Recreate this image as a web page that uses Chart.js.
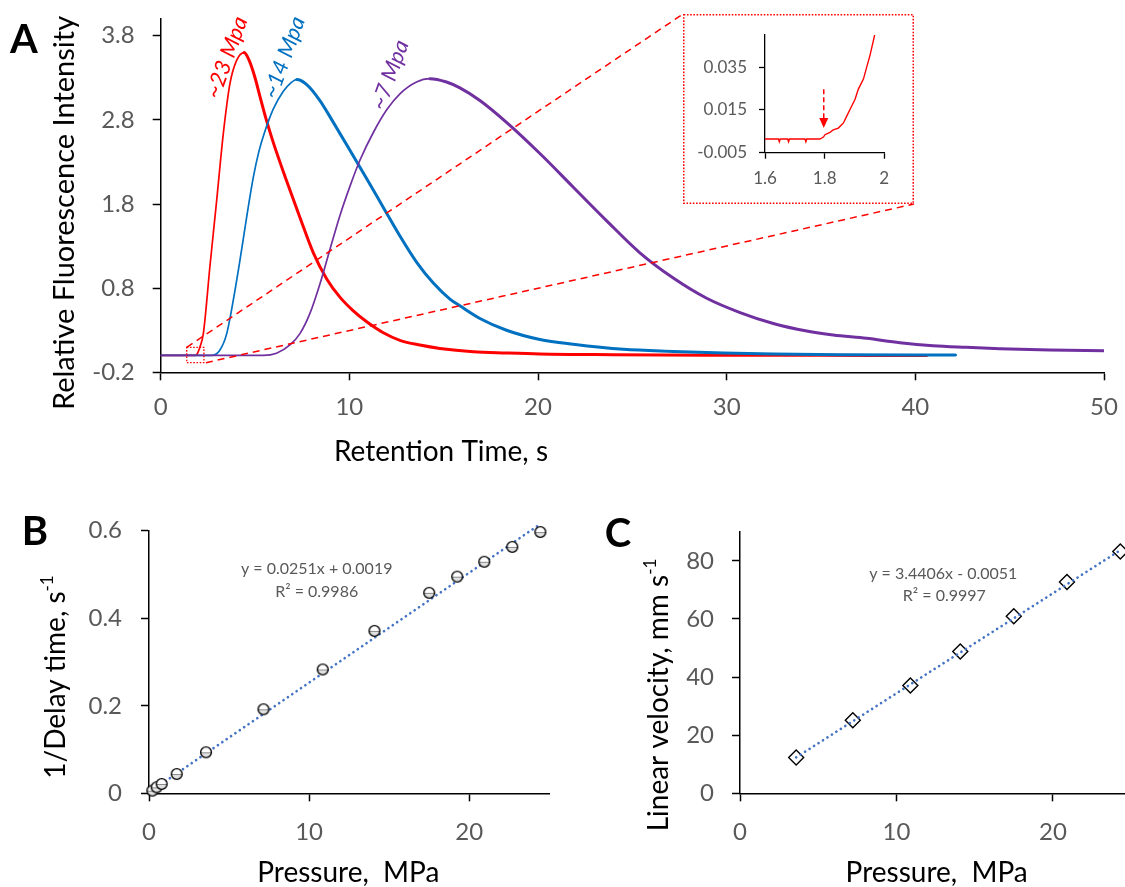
<!DOCTYPE html>
<html>
<head>
<meta charset="utf-8">
<title>Fluorescence retention and pressure dependence</title>
<script src="https://cdn.jsdelivr.net/npm/chart.js@4.4.1/dist/chart.umd.min.js"></script>
<style>
  html, body { margin: 0; padding: 0; width: 1125px; height: 887px; overflow: hidden; background: #fff; }
  canvas { position: absolute; }
</style>
</head>
<body>
<canvas id="chartA"></canvas>
<canvas id="chartInset"></canvas>
<canvas id="chartB"></canvas>
<canvas id="chartC"></canvas>
<script>
// ---------- Panel A: fluorescence traces at three pressures ----------
const time23 = [0, 1.8, 1.91, 2.08, 2.26, 2.61, 2.97, 3.32, 3.67, 4.03, 4.42, 4.7, 5.0, 5.26, 5.6, 5.97, 6.68, 7.38, 8.09, 8.80, 9.51, 10.21, 10.92, 11.80, 12.68, 13.74, 14.8, 16.57, 18.3, 20.1, 24.0, 29.0, 35.0, 40.6];
const signal23 = [0, 0, 0.01, 0.10, 0.26, 1.06, 1.85, 2.64, 3.23, 3.51, 3.60, 3.50, 3.30, 3.08, 2.80, 2.53, 2.07, 1.64, 1.22, 0.91, 0.69, 0.53, 0.40, 0.27, 0.18, 0.124, 0.084, 0.045, 0.03, 0.018, 0.01, 0.004, 0.002, 0.0];

const time14 = [0, 2.70, 3.14, 3.50, 3.85, 4.20, 4.56, 4.91, 5.2, 5.46, 5.97, 6.50, 6.9, 7.21, 7.74, 8.44, 9.15, 10.03, 10.92, 11.80, 12.68, 13.56, 14.45, 15.33, 15.86, 16.92, 18.33, 20.1, 21.87, 24.52, 27.17, 29.82, 32.47, 36.0, 42.13];
const signal14 = [0, 0, 0.065, 0.26, 0.66, 1.13, 1.65, 2.12, 2.42, 2.62, 2.93, 3.14, 3.24, 3.28, 3.22, 3.03, 2.77, 2.44, 2.10, 1.76, 1.42, 1.11, 0.86, 0.67, 0.59, 0.44, 0.30, 0.19, 0.133, 0.073, 0.048, 0.03, 0.018, 0.01, 0.006];

const time7 = [0, 5.44, 6.14, 6.85, 7.38, 7.91, 8.44, 8.97, 9.51, 10.03, 10.56, 11.27, 11.98, 12.68, 13.56, 14.27, 15.15, 15.86, 16.92, 18.33, 20.1, 21.87, 23.64, 25.4, 27.17, 28.94, 30.71, 32.47, 34.24, 35.64, 37.41, 39.18, 40.94, 42.71, 44.48, 47.13, 50.0];
const signal7 = [0, 0, 0.026, 0.125, 0.26, 0.50, 0.85, 1.26, 1.67, 2.01, 2.32, 2.65, 2.92, 3.11, 3.25, 3.29, 3.25, 3.18, 3.03, 2.77, 2.40, 2.0, 1.60, 1.22, 0.92, 0.68, 0.51, 0.38, 0.29, 0.243, 0.204, 0.152, 0.116, 0.097, 0.081, 0.065, 0.057];

const timeTicksA = [0, 10, 20, 30, 40, 50];
const signalTicksA = [-0.2, 0.8, 1.8, 2.8, 3.8];
const pressureLabels = ['~23 Mpa', '~14 Mpa', '~7 Mpa'];

// region shown enlarged in the inset
const zoomBoxTime = [1.38, 2.29];
const zoomBoxSignal = [-0.086, 0.097];

// ---------- Inset: onset of the ~23 MPa trace ----------
const insetTime = [1.6, 1.645, 1.648, 1.651, 1.676, 1.679, 1.682, 1.734, 1.737, 1.740, 1.784, 1.796, 1.801, 1.818, 1.829, 1.846, 1.863, 1.874, 1.885, 1.902, 1.913, 1.930, 1.941, 1.952, 1.969];
const insetSignal = [0.0014, 0.0014, 0.0001, 0.0014, 0.0014, 0.0001, 0.0014, 0.0014, 0.0001, 0.0014, 0.0014, 0.0023, 0.0034, 0.0045, 0.0057, 0.0065, 0.0089, 0.0121, 0.0152, 0.020, 0.0247, 0.0294, 0.035, 0.0405, 0.0508];
const insetTimeTicks = [1.6, 1.8, 2];
const insetSignalTicks = [-0.005, 0.015, 0.035];
const onsetTime = 1.797;
const onsetArrowSignal = [0.0247, 0.0065];

// ---------- Panel B: inverse delay time vs pressure ----------
const pressureB = [0.21, 0.48, 0.79, 1.73, 3.56, 7.15, 10.85, 14.08, 17.5, 19.25, 20.94, 22.69, 24.44];
const inverseDelay = [0.006, 0.0137, 0.0213, 0.044, 0.0937, 0.192, 0.283, 0.371, 0.458, 0.495, 0.529, 0.563, 0.597];
const slopeB = 0.0251, interceptB = 0.0019, r2B = 0.9986;
const pressureTicks = [0, 10, 20];
const inverseDelayTicks = [0, 0.2, 0.4, 0.6];

// ---------- Panel C: linear velocity vs pressure ----------
const pressureC = [3.59, 7.21, 10.89, 14.08, 17.5, 20.9, 24.31];
const linearVelocity = [12.3, 25.1, 37.1, 48.8, 60.9, 72.7, 83.2];
const slopeC = 3.4406, interceptC = -0.0051, r2C = 0.9997;
const velocityTicks = [0, 20, 40, 60, 80];

// ---------- shared styling ----------
const FONT = 'Lato, "Open Sans", sans-serif';
const TICK_GREY = '#595959';
const RED = '#FF0000', BLUE = '#0070C0', PURPLE = '#7030A0', FIT_BLUE = '#4472C4';

const pts = (xs, ys) => xs.map((x, i) => ({ x, y: ys[i] }));
const fmtTick = v => String(Number(v.toFixed(4)));

function placeCanvas(id, box) {
  const c = document.getElementById(id);
  c.width = box.w; c.height = box.h;
  c.style.left = box.x + 'px'; c.style.top = box.y + 'px';
  c.style.width = box.w + 'px'; c.style.height = box.h + 'px';
  return c;
}

// padding so that the plot area lands on the given page rectangle
function padFor(box, plot, yW, xH) {
  return {
    left: plot.l - box.x - yW,
    top: plot.t - box.y,
    right: box.x + box.w - plot.r,
    bottom: box.y + box.h - plot.b - xH
  };
}

function axis(opts) {
  const { ticks, min, max, size, isY, fontSize, tickLen, pad, width } = opts;
  return {
    type: 'linear', min, max,
    afterBuildTicks: s => { s.ticks = ticks.map(v => ({ value: v })); },
    afterFit: s => {
      if (isY) { s.width = size; s.paddingTop = 0; s.paddingBottom = 0; }
      else { s.height = size; s.paddingLeft = 0; s.paddingRight = 0; }
    },
    grid: { display: true, drawOnChartArea: false, drawTicks: true, tickLength: tickLen, tickWidth: width, tickColor: '#000' },
    border: { display: true, color: '#000', width: width },
    ticks: {
      color: TICK_GREY, padding: pad, autoSkip: false, maxRotation: 0,
      font: { family: FONT, size: fontSize },
      callback: v => fmtTick(v)
    }
  };
}

// draws free text (titles, panel letters, notes) at page coordinates
function textLayer(items, ox, oy) {
  return {
    id: 'textLayer',
    afterDraw(chart) {
      const ctx = chart.ctx;
      for (const it of items) {
        ctx.save();
        ctx.translate(it.x - ox, it.y - oy);
        ctx.rotate((it.angle || 0) * Math.PI / 180);
        ctx.fillStyle = it.color || '#000';
        ctx.textBaseline = it.baseline || 'alphabetic';
        ctx.textAlign = 'left';
        const runs = it.runs || [{ text: it.text, font: it.font }];
        let total = 0;
        runs.forEach(r => { ctx.font = r.font; total += ctx.measureText(r.text).width; });
        let x = -total / 2;
        runs.forEach(r => {
          ctx.font = r.font;
          ctx.fillText(r.text, x, -(r.rise || 0));
          x += ctx.measureText(r.text).width;
        });
        ctx.restore();
      }
    }
  };
}

const noNoise = { legend: { display: false }, tooltip: { enabled: false } };

// ================= Panel A =================
const boxA = { x: 0, y: 0, w: 1125, h: 475 };
const plotA = { l: 160.7, t: 18.9, r: 1104, b: 372.3 };
const insetBox = { x: 683, y: 14, w: 231, h: 190 };
placeCanvas('chartA', boxA);

const traceWidth = ctx => (ctx.p1.parsed.y < ctx.p0.parsed.y - 1e-9 ? 3 : 1.7);
function trace(label, xs, ys, color) {
  return {
    label, data: pts(xs, ys), borderColor: color, backgroundColor: color,
    borderWidth: 2, pointRadius: 0, cubicInterpolationMode: 'monotone',
    borderJoinStyle: 'round', borderCapStyle: 'round',
    segment: { borderWidth: traceWidth }
  };
}

const zoomGuides = {
  id: 'zoomGuides',
  afterDraw(chart) {
    const { ctx, scales: { x, y } } = chart;
    const x0 = x.getPixelForValue(zoomBoxTime[0]), x1 = x.getPixelForValue(zoomBoxTime[1]);
    const y0 = y.getPixelForValue(zoomBoxSignal[1]), y1 = y.getPixelForValue(zoomBoxSignal[0]);
    ctx.save();
    ctx.strokeStyle = RED;
    ctx.lineWidth = 1.3;
    ctx.setLineDash([1.6, 1.6]);
    ctx.strokeRect(x0, y0, x1 - x0, y1 - y0);
    ctx.lineWidth = 1.5;
    ctx.setLineDash([7, 5]);
    ctx.beginPath();
    ctx.moveTo(x0, y0); ctx.lineTo(insetBox.x - boxA.x, insetBox.y - boxA.y);
    ctx.moveTo(x1 + 2, y1); ctx.lineTo(insetBox.x + insetBox.w - boxA.x, insetBox.y + insetBox.h - boxA.y);
    ctx.stroke();
    ctx.restore();
  }
};

new Chart(document.getElementById('chartA'), {
  type: 'line',
  data: {
    datasets: [
      trace(pressureLabels[2], time7, signal7, PURPLE),
      trace(pressureLabels[1], time14, signal14, BLUE),
      trace(pressureLabels[0], time23, signal23, RED)
    ]
  },
  options: {
    responsive: false, animation: false, events: [],
    layout: { padding: padFor(boxA, plotA, 100, 60) },
    scales: {
      x: axis({ ticks: timeTicksA, min: 0, max: 50, size: 60, isY: false, fontSize: 24, tickLen: 8, pad: 13, width: 1.5 }),
      y: axis({ ticks: signalTicksA, min: -0.2, max: 4.0, size: 100, isY: true, fontSize: 24, tickLen: 8, pad: 18, width: 1.5 })
    },
    plugins: noNoise
  },
  plugins: [zoomGuides, textLayer([
    { text: 'A', font: `bold 40px ${FONT}`, x: 24, y: 53 },
    { text: 'Relative Fluorescence Intensity', font: `29px ${FONT}`, x: 74, y: 213, angle: -90 },
    { text: 'Retention Time, s', font: `28px ${FONT}`, x: 441, y: 461 },
    { text: pressureLabels[0], font: `italic 22px ${FONT}`, x: 226.7, y: 57.5, angle: -70, color: RED, baseline: 'middle' },
    { text: pressureLabels[1], font: `italic 22px ${FONT}`, x: 284.2, y: 57.5, angle: -70, color: BLUE, baseline: 'middle' },
    { text: pressureLabels[2], font: `italic 22px ${FONT}`, x: 390, y: 75, angle: -70, color: PURPLE, baseline: 'middle' }
  ], boxA.x, boxA.y)]
});

// ================= Inset =================
const plotInset = { l: 765, t: 35, r: 884.3, b: 152.7 };
placeCanvas('chartInset', insetBox);

const insetFrame = {
  id: 'insetFrame',
  afterDraw(chart) {
    const { ctx, scales: { x, y } } = chart;
    ctx.save();
    ctx.strokeStyle = RED;
    ctx.lineWidth = 1.5;
    ctx.setLineDash([1.6, 1.6]);
    ctx.strokeRect(0.75, 0.75, insetBox.w - 1.5, insetBox.h - 1.5);
    // onset marker
    const ax = x.getPixelForValue(onsetTime);
    const aTop = y.getPixelForValue(onsetArrowSignal[0]);
    const aTip = y.getPixelForValue(onsetArrowSignal[1]);
    ctx.setLineDash([5, 3]);
    ctx.lineWidth = 1.5;
    ctx.beginPath(); ctx.moveTo(ax, aTop); ctx.lineTo(ax, aTip - 8); ctx.stroke();
    ctx.setLineDash([]);
    ctx.fillStyle = RED;
    ctx.beginPath(); ctx.moveTo(ax - 4.5, aTip - 10); ctx.lineTo(ax + 4.5, aTip - 10); ctx.lineTo(ax, aTip); ctx.closePath(); ctx.fill();
    ctx.restore();
  }
};

new Chart(document.getElementById('chartInset'), {
  type: 'line',
  data: {
    datasets: [{
      label: pressureLabels[0], data: pts(insetTime, insetSignal),
      borderColor: RED, borderWidth: 1.4, pointRadius: 0, tension: 0
    }]
  },
  options: {
    responsive: false, animation: false, events: [],
    layout: { padding: padFor(insetBox, plotInset, 70, 40) },
    scales: {
      x: axis({ ticks: insetTimeTicks, min: 1.6, max: 2, size: 40, isY: false, fontSize: 17, tickLen: 6, pad: 10, width: 1.3 }),
      y: axis({ ticks: insetSignalTicks, min: -0.005, max: 0.05, size: 70, isY: true, fontSize: 17, tickLen: 6, pad: 12, width: 1.3 })
    },
    plugins: noNoise
  },
  plugins: [insetFrame]
});

// ================= Panel B =================
const boxB = { x: 0, y: 475, w: 580, h: 412 };
const plotB = { l: 149, t: 530.7, r: 549.3, b: 793.3 };
placeCanvas('chartB', boxB);

function circleMarker() {
  const c = document.createElement('canvas');
  c.width = 14; c.height = 14;
  const g = c.getContext('2d');
  g.beginPath(); g.arc(7, 7, 5.4, 0, Math.PI * 2);
  g.fillStyle = '#fff'; g.fill();
  g.save(); g.clip();
  g.fillStyle = '#e2e2e2'; g.fillRect(0, 7.6, 14, 7);
  g.fillStyle = '#8c8c8c'; g.fillRect(0, 7, 14, 1);
  g.restore();
  g.lineWidth = 1.4; g.strokeStyle = '#000'; g.stroke();
  return c;
}

const fitLine = (xs, slope, intercept) => {
  const a = xs[0], b = xs[xs.length - 1];
  return [{ x: a, y: slope * a + intercept }, { x: b, y: slope * b + intercept }];
};
const fitStyle = { borderColor: FIT_BLUE, borderWidth: 2.6, borderDash: [0.1, 5.2], borderCapStyle: 'round', pointRadius: 0, clip: false };
const eqText = (slope, intercept) => `y = ${slope}x ${intercept < 0 ? '-' : '+'} ${Math.abs(intercept)}`;

new Chart(document.getElementById('chartB'), {
  type: 'line',
  data: {
    datasets: [
      { label: '1/Delay time', data: pts(pressureB, inverseDelay), showLine: false,
        pointStyle: circleMarker(), pointRadius: 7, clip: false },
      Object.assign({ label: 'Linear fit', data: fitLine(pressureB, slopeB, interceptB) }, fitStyle)
    ]
  },
  options: {
    responsive: false, animation: false, events: [],
    layout: { padding: padFor(boxB, plotB, 100, 60) },
    scales: {
      x: axis({ ticks: pressureTicks, min: 0, max: 25, size: 60, isY: false, fontSize: 24, tickLen: 8, pad: 17, width: 1.5 }),
      y: axis({ ticks: inverseDelayTicks, min: 0, max: 0.6, size: 100, isY: true, fontSize: 24, tickLen: 8, pad: 19, width: 1.5 })
    },
    plugins: noNoise
  },
  plugins: [textLayer([
    { text: 'B', font: `bold 40px ${FONT}`, x: 35, y: 545 },
    { runs: [{ text: '1/Delay time, s', font: `28px ${FONT}` }, { text: '-1', font: `17px ${FONT}`, rise: 12 }], x: 65, y: 677, angle: -90 },
    { text: 'Pressure,  MPa', font: `28px ${FONT}`, x: 348.3, y: 881.7 },
    { text: eqText(slopeB, interceptB), font: `16px ${FONT}`, x: 316.7, y: 574.3, color: TICK_GREY },
    { text: `R² = ${r2B}`, font: `16px ${FONT}`, x: 316.7, y: 596.7, color: TICK_GREY }
  ], boxB.x, boxB.y)]
});

// ================= Panel C =================
const boxC = { x: 580, y: 475, w: 560, h: 412 };
const plotC = { l: 740, t: 531.7, r: 1132.5, b: 793.3 };
placeCanvas('chartC', boxC);

new Chart(document.getElementById('chartC'), {
  type: 'line',
  data: {
    datasets: [
      Object.assign({ label: 'Linear fit', data: fitLine(pressureC, slopeC, interceptC) }, fitStyle),
      { label: 'Linear velocity', data: pts(pressureC, linearVelocity), showLine: false,
        pointStyle: 'rectRot', pointRadius: 7.5, pointBackgroundColor: '#fff',
        pointBorderColor: '#000', pointBorderWidth: 1.4, clip: false }
    ]
  },
  options: {
    responsive: false, animation: false, events: [],
    layout: { padding: padFor(boxC, plotC, 100, 60) },
    scales: {
      x: axis({ ticks: pressureTicks, min: 0, max: 25, size: 60, isY: false, fontSize: 24, tickLen: 8, pad: 17, width: 1.5 }),
      y: axis({ ticks: velocityTicks, min: 0, max: 90, size: 100, isY: true, fontSize: 24, tickLen: 8, pad: 18, width: 1.5 })
    },
    plugins: noNoise
  },
  plugins: [textLayer([
    { text: 'C', font: `bold 40px ${FONT}`, x: 618, y: 546.7 },
    { runs: [{ text: 'Linear velocity, mm s', font: `28px ${FONT}` }, { text: '-1', font: `17px ${FONT}`, rise: 12 }], x: 668, y: 695, angle: -90 },
    { text: 'Pressure,  MPa', font: `28px ${FONT}`, x: 936.7, y: 881.7 },
    { text: eqText(slopeC, interceptC), font: `16px ${FONT}`, x: 943.3, y: 579, color: TICK_GREY },
    { text: `R² = ${r2C}`, font: `16px ${FONT}`, x: 944.3, y: 600.7, color: TICK_GREY }
  ], boxC.x, boxC.y)]
});
</script>
</body>
</html>
